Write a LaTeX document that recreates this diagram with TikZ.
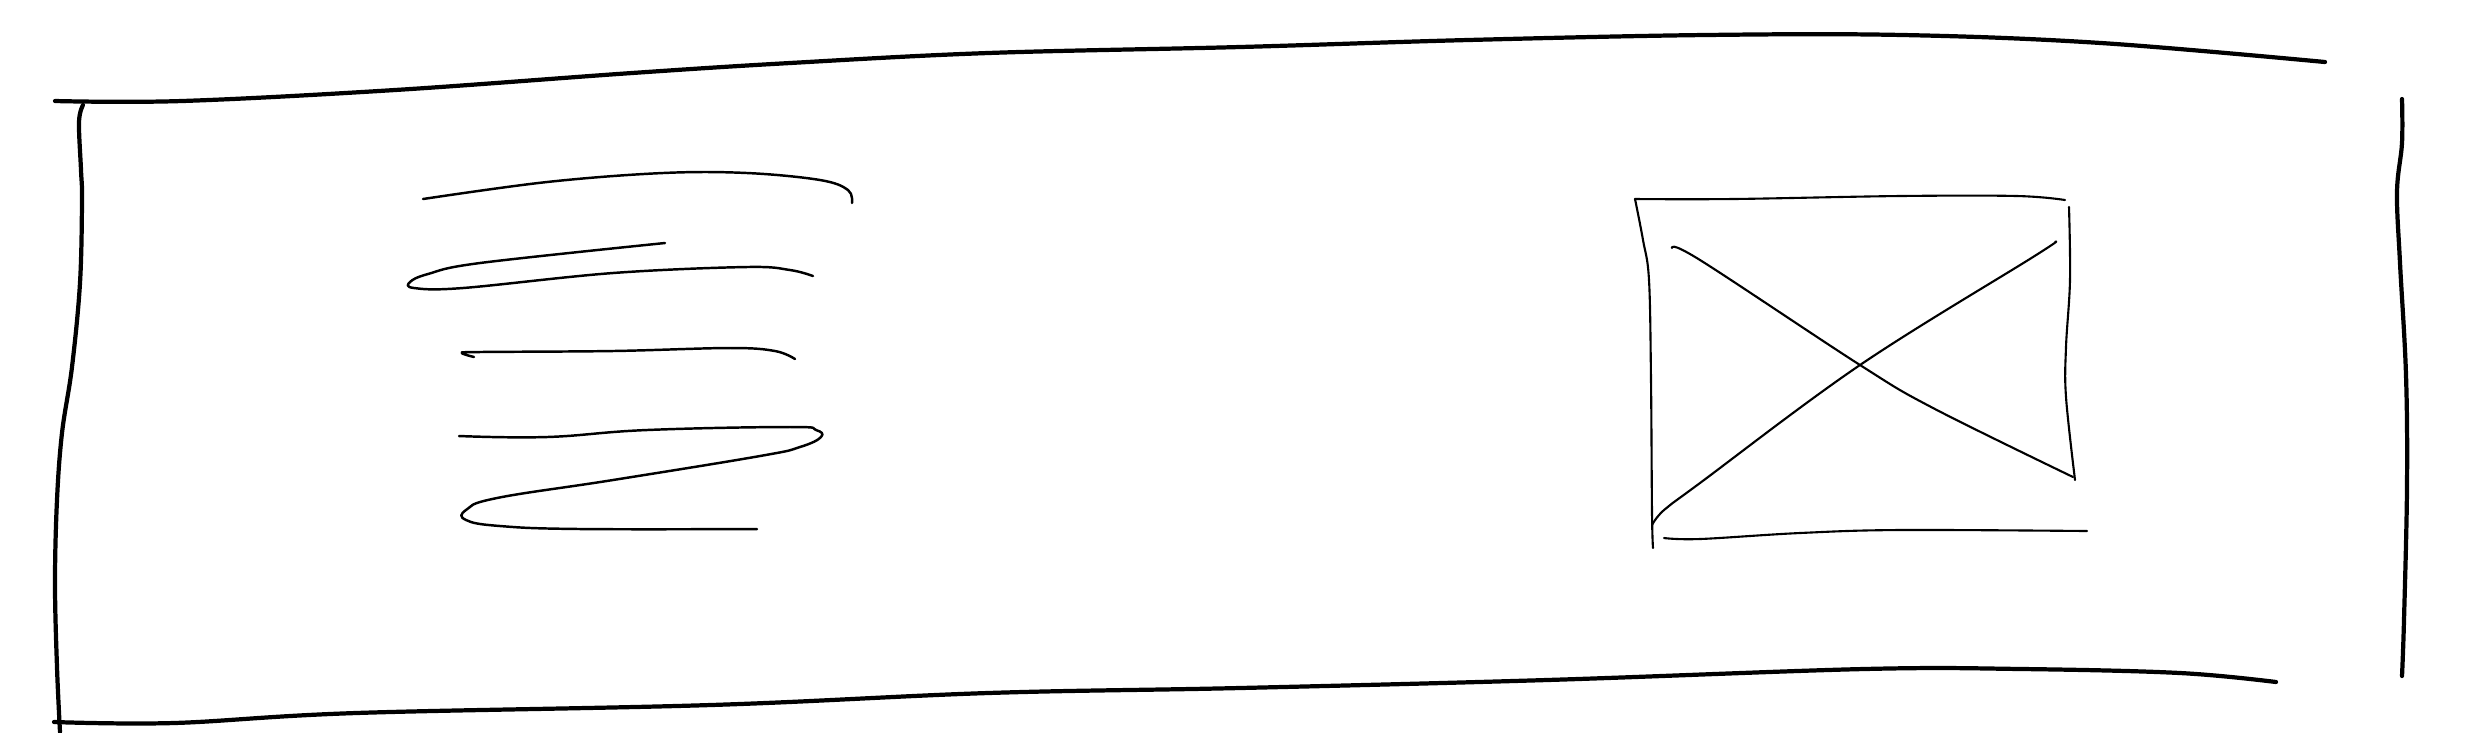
\documentclass[tikz,border=0pt]{standalone}
\begin{document}
\begin{tikzpicture}[x=0.01cm,y=-0.01cm,
  framestroke/.style={line width=1.2pt,line cap=round,line join=round},
  scribble/.style={line width=0.7pt,line cap=round,line join=round},
  imgstroke/.style={line width=0.6pt,line cap=round,line join=round}]
\useasboundingbox (0,0) rectangle (2472,732);
% outer frame
\draw[framestroke] plot[smooth,tension=0.6] coordinates {(55,101) (182,101) (395,90) (632,73) (790,63) (988,53) (1240,47) (1468,40) (1705,35) (1903,35) (2101,43) (2325,62)};
\draw[framestroke] plot[smooth,tension=0.6] coordinates {(83,105) (79,122) (81,170) (82,200) (80,283) (72,367) (62,433) (57,500) (55,583) (57,667) (60,732)};
\draw[framestroke] plot[smooth,tension=0.6] coordinates {(54,722) (174,723) (356,713) (711,705) (988,693) (1240,688) (1547,680) (1864,669) (2022,669) (2180,673) (2276,682)};
\draw[framestroke] plot[smooth,tension=0.6] coordinates {(2402,99) (2402,143) (2397,192) (2400,263) (2406,375) (2407,487) (2404,620) (2402,676)};
% text scribbles
\draw[scribble] plot[smooth,tension=0.6] coordinates {(423,199) (547,182) (663,173) (747,173) (820,180) (848,190) (852,203)};
\draw[scribble] plot[smooth,tension=0.6] coordinates {(665,243) (480,263) (428,274) (410,282) (414,288) (463,288) (613,273) (747,267) (790,270) (813,276)};
\draw[scribble] plot[smooth,tension=0.6] coordinates {(474,357) (462,353) (480,352) (613,351) (730,348) (775,351) (795,359)};
\draw[scribble] plot[smooth,tension=0.7] coordinates {(459,436) (547,437) (647,430) (790,427) (816,430) (821,437) (800,447) (760,456) (613,480) (497,498) (466,510) (466,520) (500,526) (580,529) (757,529)};
% image placeholder
\draw[imgstroke] plot[smooth,tension=0.6] coordinates {(1635,199) (1733,199) (1900,196) (2017,196) (2065,200)};
\draw[imgstroke] plot[smooth,tension=0.6] coordinates {(1635,199) (1643,240) (1649,280) (1651,380) (1652,513) (1653,548)};
\draw[imgstroke] plot[smooth,tension=0.6] coordinates {(2069,207) (2070,280) (2066,347) (2066,397) (2075,480)};
\draw[imgstroke] plot[smooth,tension=0.6] coordinates {(1664,538) (1700,539) (1800,533) (1900,530) (2087,531)};
\draw[imgstroke] plot[smooth,tension=0.6] coordinates {(1672,248) (1700,260) (1860,365) (1933,408) (2073,477)};
\draw[imgstroke] plot[smooth,tension=0.6] coordinates {(2055,242) (2033,257) (1860,365) (1700,483) (1664,510) (1652,525)};
\end{tikzpicture}
\end{document}
